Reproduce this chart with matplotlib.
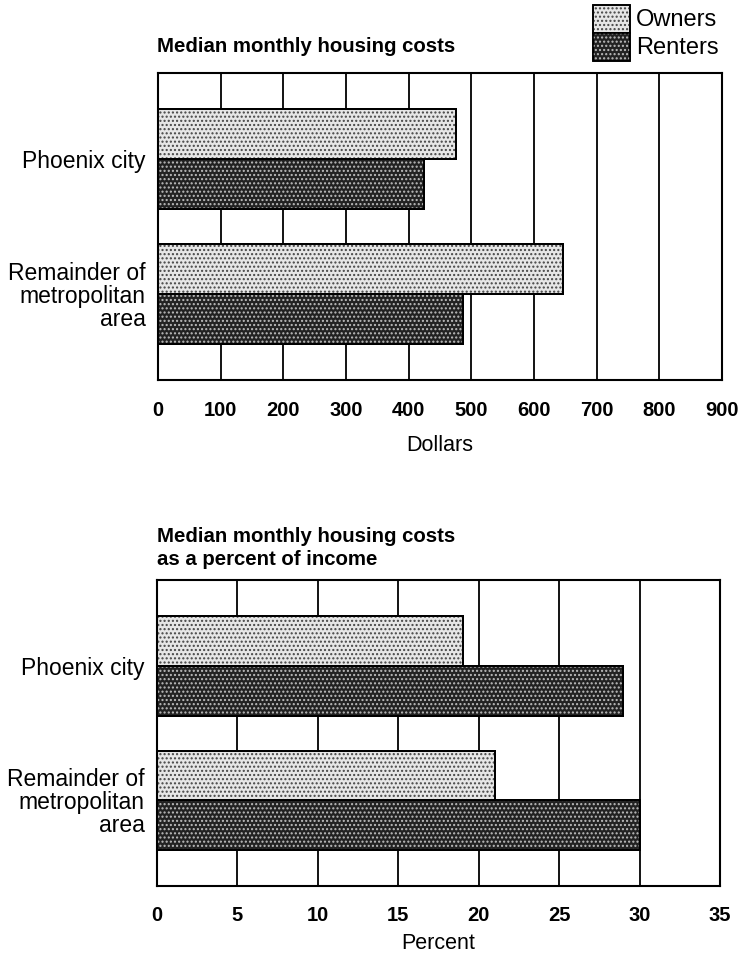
import matplotlib

matplotlib.use("Agg")
import matplotlib.pyplot as plt
import numpy as np
from matplotlib.patches import Rectangle

# data
categories = ["Phoenix city", "Remainder of\nmetropolitan\narea"]
series = ["Owners", "Renters"]
cost_owners = [476, 647]
cost_renters = [425, 487]
pct_owners = [19.0, 21.0]
pct_renters = [29.0, 30.0]
cost_ticks = [0, 100, 200, 300, 400, 500, 600, 700, 800, 900]
pct_ticks = [0, 5, 10, 15, 20, 25, 30, 35]

FONT = ["Liberation Sans", "DejaVu Sans"]

STYLES = {
    "Owners": dict(face="#e6e6e6", hatch_color="#444444"),
    "Renters": dict(face="#222222", hatch_color="#bdbdbd"),
}
HATCH = "...."
BAR_H = 0.37

plt.rcParams["hatch.linewidth"] = 1.0


def hatched_bars(ax, y, values, style):
    ax.barh(y, values, height=BAR_H, color=style["face"], edgecolor="black",
            linewidth=1.4, zorder=2)
    ax.barh(y, values, height=BAR_H, fill=False, hatch=HATCH,
            edgecolor=style["hatch_color"], linewidth=0, zorder=3)
    ax.barh(y, values, height=BAR_H, fill=False, edgecolor="black",
            linewidth=1.4, zorder=4)


def panel(ax, owners, renters, ticks, xlabel, tickpad, labelpad):
    y = np.arange(len(categories))
    hatched_bars(ax, y - BAR_H / 2, owners, STYLES["Owners"])
    hatched_bars(ax, y + BAR_H / 2, renters, STYLES["Renters"])

    ax.set_xlim(ticks[0], ticks[-1])
    ax.set_ylim(1.64, -0.64)
    ax.set_xticks(ticks)
    ax.set_xticklabels([str(t) for t in ticks], family=FONT,
                       fontweight="bold", fontsize=14.5)
    ax.set_yticks(y)
    ax.set_yticklabels(categories, family=FONT, fontsize=16.5,
                       ha="right", multialignment="right")
    for lbl in ax.get_yticklabels():
        lbl.set_linespacing(1.0)
    ax.tick_params(axis="x", length=0, pad=tickpad)
    ax.tick_params(axis="y", length=0, pad=9)
    ax.xaxis.grid(True, color="black", linewidth=1.3)
    ax.set_axisbelow(True)
    for sp in ax.spines.values():
        sp.set_linewidth(1.5)
        sp.set_color("black")
    ax.set_xlabel(xlabel, family=FONT, fontsize=15.5, labelpad=labelpad)


fig = plt.figure(figsize=(7.39, 9.6), dpi=100)
ax1 = fig.add_axes([0.2138, 0.6042, 0.7632, 0.3198])
ax2 = fig.add_axes([0.2124, 0.077, 0.7619, 0.3188])

panel(ax1, cost_owners, cost_renters, cost_ticks, "Dollars", 15, 11)
panel(ax2, pct_owners, pct_renters, pct_ticks, "Percent", 14, 6)

fig.text(157 / 739, 1 - 47 / 960, "Median monthly housing costs",
         family=FONT, fontweight="bold", fontsize=14.7, va="center")
fig.text(157 / 739, 1 - 548 / 960,
         "Median monthly housing costs\nas a percent of income",
         family=FONT, fontweight="bold", fontsize=14.7, va="center",
         linespacing=1.3)

# legend: two stacked swatches with labels, top right
sw_x, sw_w, sw_h, sw_top = 593, 37, 28, 5
for i, s in enumerate(series):
    top = sw_top + i * sw_h
    st = STYLES[s]
    for kw in (dict(facecolor=st["face"], edgecolor="black", linewidth=1.2),
               dict(fill=False, hatch=HATCH, edgecolor=st["hatch_color"], linewidth=0),
               dict(fill=False, edgecolor="black", linewidth=1.2)):
        fig.add_artist(Rectangle((sw_x / 739, 1 - (top + sw_h) / 960),
                                 sw_w / 739, sw_h / 960,
                                 transform=fig.transFigure, **kw))
    fig.text(636 / 739, 1 - (top + sw_h / 2 + 1) / 960, s, family=FONT,
             fontsize=17, va="center", ha="left")

fig.savefig("out.png", dpi=100)
